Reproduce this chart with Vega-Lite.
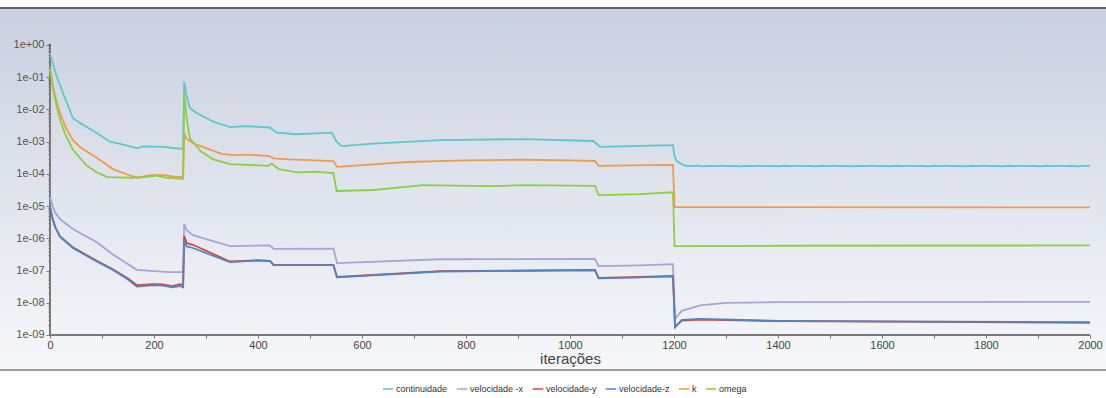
{
  "$schema": "https://vega.github.io/schema/vega-lite/v6.json",
  "width": 1106,
  "height": 362,
  "autosize": {"type": "none"},
  "padding": {"left": 0, "right": 0, "top": 8, "bottom": 28},
  "background": "white",
  "config": {"view": {"stroke": null}, "axis": {"grid": false}},
  "data": {"values": [
    {"s":"continuidade","it":0,"v":5.62e-1},{"s":"continuidade","it":5,"v":2.82e-1},{"s":"continuidade","it":13,"v":1.05e-1},{"s":"continuidade","it":25,"v":3.24e-2},{"s":"continuidade","it":44,"v":5.37e-3},{"s":"continuidade","it":58,"v":3.80e-3},{"s":"continuidade","it":90,"v":1.86e-3},{"s":"continuidade","it":115,"v":1.0e-3},{"s":"continuidade","it":135,"v":8.51e-4},{"s":"continuidade","it":167,"v":6.31e-4},{"s":"continuidade","it":180,"v":7.08e-4},{"s":"continuidade","it":218,"v":6.92e-4},{"s":"continuidade","it":250,"v":6.03e-4},{"s":"continuidade","it":256,"v":6.31e-4},{"s":"continuidade","it":258,"v":7.24e-2},{"s":"continuidade","it":263,"v":2.51e-2},{"s":"continuidade","it":269,"v":1.10e-2},{"s":"continuidade","it":282,"v":7.76e-3},{"s":"continuidade","it":314,"v":4.17e-3},{"s":"continuidade","it":346,"v":2.82e-3},{"s":"continuidade","it":378,"v":3.02e-3},{"s":"continuidade","it":423,"v":2.75e-3},{"s":"continuidade","it":436,"v":1.91e-3},{"s":"continuidade","it":474,"v":1.70e-3},{"s":"continuidade","it":542,"v":1.91e-3},{"s":"continuidade","it":551,"v":1.0e-3},{"s":"continuidade","it":561,"v":7.24e-4},{"s":"continuidade","it":622,"v":8.71e-4},{"s":"continuidade","it":750,"v":1.12e-3},{"s":"continuidade","it":910,"v":1.20e-3},{"s":"continuidade","it":1045,"v":1.05e-3},{"s":"continuidade","it":1058,"v":6.92e-4},{"s":"continuidade","it":1135,"v":7.41e-4},{"s":"continuidade","it":1198,"v":7.76e-4},{"s":"continuidade","it":1201,"v":3.55e-4},{"s":"continuidade","it":1205,"v":2.51e-4},{"s":"continuidade","it":1220,"v":1.82e-4},
    {"s":"continuidade","it":1232,"v":1.74e-4},{"s":"continuidade","it":1244,"v":1.80e-4},{"s":"continuidade","it":1256,"v":1.72e-4},{"s":"continuidade","it":1268,"v":1.78e-4},{"s":"continuidade","it":1280,"v":1.74e-4},{"s":"continuidade","it":1292,"v":1.81e-4},{"s":"continuidade","it":1304,"v":1.73e-4},{"s":"continuidade","it":1316,"v":1.78e-4},{"s":"continuidade","it":1328,"v":1.72e-4},{"s":"continuidade","it":1340,"v":1.79e-4},{"s":"continuidade","it":1352,"v":1.75e-4},{"s":"continuidade","it":1364,"v":1.80e-4},{"s":"continuidade","it":1376,"v":1.73e-4},{"s":"continuidade","it":1388,"v":1.77e-4},{"s":"continuidade","it":1400,"v":1.72e-4},{"s":"continuidade","it":1412,"v":1.79e-4},{"s":"continuidade","it":1424,"v":1.74e-4},{"s":"continuidade","it":1436,"v":1.80e-4},{"s":"continuidade","it":1448,"v":1.73e-4},{"s":"continuidade","it":1460,"v":1.78e-4},{"s":"continuidade","it":1472,"v":1.72e-4},{"s":"continuidade","it":1484,"v":1.79e-4},{"s":"continuidade","it":1496,"v":1.75e-4},{"s":"continuidade","it":1508,"v":1.80e-4},{"s":"continuidade","it":1520,"v":1.73e-4},{"s":"continuidade","it":1532,"v":1.77e-4},{"s":"continuidade","it":1544,"v":1.72e-4},{"s":"continuidade","it":1556,"v":1.79e-4},{"s":"continuidade","it":1568,"v":1.74e-4},{"s":"continuidade","it":1580,"v":1.81e-4},{"s":"continuidade","it":1592,"v":1.73e-4},{"s":"continuidade","it":1604,"v":1.78e-4},{"s":"continuidade","it":1616,"v":1.72e-4},{"s":"continuidade","it":1628,"v":1.79e-4},{"s":"continuidade","it":1640,"v":1.75e-4},{"s":"continuidade","it":1652,"v":1.80e-4},{"s":"continuidade","it":1664,"v":1.73e-4},{"s":"continuidade","it":1676,"v":1.77e-4},{"s":"continuidade","it":1688,"v":1.72e-4},{"s":"continuidade","it":1700,"v":1.79e-4},{"s":"continuidade","it":1712,"v":1.74e-4},{"s":"continuidade","it":1724,"v":1.80e-4},{"s":"continuidade","it":1736,"v":1.73e-4},{"s":"continuidade","it":1748,"v":1.78e-4},{"s":"continuidade","it":1760,"v":1.72e-4},{"s":"continuidade","it":1772,"v":1.79e-4},{"s":"continuidade","it":1784,"v":1.75e-4},{"s":"continuidade","it":1796,"v":1.81e-4},{"s":"continuidade","it":1808,"v":1.73e-4},{"s":"continuidade","it":1820,"v":1.77e-4},{"s":"continuidade","it":1832,"v":1.72e-4},{"s":"continuidade","it":1844,"v":1.79e-4},{"s":"continuidade","it":1856,"v":1.74e-4},{"s":"continuidade","it":1868,"v":1.80e-4},{"s":"continuidade","it":1880,"v":1.73e-4},{"s":"continuidade","it":1892,"v":1.78e-4},{"s":"continuidade","it":1904,"v":1.72e-4},{"s":"continuidade","it":1916,"v":1.79e-4},{"s":"continuidade","it":1928,"v":1.75e-4},{"s":"continuidade","it":1940,"v":1.80e-4},{"s":"continuidade","it":1952,"v":1.73e-4},{"s":"continuidade","it":1964,"v":1.77e-4},{"s":"continuidade","it":1976,"v":1.72e-4},{"s":"continuidade","it":1988,"v":1.79e-4},{"s":"continuidade","it":2000,"v":1.76e-4},
    {"s":"velocidade -x","it":0,"v":2.0e-5},{"s":"velocidade -x","it":5,"v":1.0e-5},{"s":"velocidade -x","it":10,"v":6.31e-6},{"s":"velocidade -x","it":19,"v":3.98e-6},{"s":"velocidade -x","it":44,"v":1.95e-6},{"s":"velocidade -x","it":90,"v":7.59e-7},{"s":"velocidade -x","it":121,"v":3.16e-7},{"s":"velocidade -x","it":167,"v":1.05e-7},{"s":"velocidade -x","it":200,"v":9.55e-8},{"s":"velocidade -x","it":231,"v":8.91e-8},{"s":"velocidade -x","it":256,"v":8.91e-8},{"s":"velocidade -x","it":258,"v":2.75e-6},{"s":"velocidade -x","it":263,"v":1.78e-6},{"s":"velocidade -x","it":275,"v":1.26e-6},{"s":"velocidade -x","it":346,"v":5.75e-7},{"s":"velocidade -x","it":423,"v":6.03e-7},{"s":"velocidade -x","it":430,"v":4.68e-7},{"s":"velocidade -x","it":545,"v":4.79e-7},{"s":"velocidade -x","it":552,"v":1.70e-7},{"s":"velocidade -x","it":750,"v":2.24e-7},{"s":"velocidade -x","it":1048,"v":2.29e-7},{"s":"velocidade -x","it":1055,"v":1.38e-7},{"s":"velocidade -x","it":1135,"v":1.45e-7},{"s":"velocidade -x","it":1198,"v":1.58e-7},{"s":"velocidade -x","it":1202,"v":3.16e-9},{"s":"velocidade -x","it":1215,"v":5.62e-9},{"s":"velocidade -x","it":1250,"v":8.32e-9},{"s":"velocidade -x","it":1300,"v":1.0e-8},{"s":"velocidade -x","it":1400,"v":1.05e-8},{"s":"velocidade -x","it":2000,"v":1.07e-8},
    {"s":"velocidade-y","it":0,"v":8.91e-6},{"s":"velocidade-y","it":5,"v":3.98e-6},{"s":"velocidade-y","it":10,"v":2.24e-6},{"s":"velocidade-y","it":19,"v":1.17e-6},{"s":"velocidade-y","it":44,"v":5.25e-7},{"s":"velocidade-y","it":90,"v":2.0e-7},{"s":"velocidade-y","it":121,"v":1.10e-7},{"s":"velocidade-y","it":150,"v":5.62e-8},{"s":"velocidade-y","it":167,"v":3.55e-8},{"s":"velocidade-y","it":200,"v":3.80e-8},{"s":"velocidade-y","it":217,"v":3.72e-8},{"s":"velocidade-y","it":235,"v":3.31e-8},{"s":"velocidade-y","it":250,"v":3.80e-8},{"s":"velocidade-y","it":256,"v":3.55e-8},{"s":"velocidade-y","it":258,"v":1.17e-6},{"s":"velocidade-y","it":263,"v":7.08e-7},{"s":"velocidade-y","it":275,"v":6.31e-7},{"s":"velocidade-y","it":346,"v":1.91e-7},{"s":"velocidade-y","it":398,"v":2.09e-7},{"s":"velocidade-y","it":423,"v":2.0e-7},{"s":"velocidade-y","it":430,"v":1.51e-7},{"s":"velocidade-y","it":545,"v":1.51e-7},{"s":"velocidade-y","it":552,"v":6.31e-8},{"s":"velocidade-y","it":750,"v":9.55e-8},{"s":"velocidade-y","it":1048,"v":1.05e-7},{"s":"velocidade-y","it":1055,"v":5.89e-8},{"s":"velocidade-y","it":1135,"v":6.31e-8},{"s":"velocidade-y","it":1198,"v":6.76e-8},{"s":"velocidade-y","it":1202,"v":1.78e-9},{"s":"velocidade-y","it":1215,"v":2.82e-9},{"s":"velocidade-y","it":1250,"v":3.02e-9},{"s":"velocidade-y","it":1400,"v":2.69e-9},{"s":"velocidade-y","it":2000,"v":2.40e-9},
    {"s":"velocidade-z","it":0,"v":1.0e-5},{"s":"velocidade-z","it":5,"v":4.17e-6},{"s":"velocidade-z","it":10,"v":2.24e-6},{"s":"velocidade-z","it":19,"v":1.12e-6},{"s":"velocidade-z","it":44,"v":5.01e-7},{"s":"velocidade-z","it":90,"v":1.91e-7},{"s":"velocidade-z","it":121,"v":1.05e-7},{"s":"velocidade-z","it":150,"v":5.25e-8},{"s":"velocidade-z","it":167,"v":3.16e-8},{"s":"velocidade-z","it":200,"v":3.55e-8},{"s":"velocidade-z","it":217,"v":3.39e-8},{"s":"velocidade-z","it":235,"v":3.02e-8},{"s":"velocidade-z","it":250,"v":3.31e-8},{"s":"velocidade-z","it":256,"v":3.02e-8},{"s":"velocidade-z","it":258,"v":7.94e-7},{"s":"velocidade-z","it":263,"v":5.62e-7},{"s":"velocidade-z","it":275,"v":5.01e-7},{"s":"velocidade-z","it":346,"v":1.82e-7},{"s":"velocidade-z","it":398,"v":2.04e-7},{"s":"velocidade-z","it":423,"v":1.95e-7},{"s":"velocidade-z","it":430,"v":1.48e-7},{"s":"velocidade-z","it":545,"v":1.48e-7},{"s":"velocidade-z","it":552,"v":6.17e-8},{"s":"velocidade-z","it":750,"v":9.33e-8},{"s":"velocidade-z","it":1048,"v":1.02e-7},{"s":"velocidade-z","it":1055,"v":5.75e-8},{"s":"velocidade-z","it":1135,"v":6.17e-8},{"s":"velocidade-z","it":1198,"v":6.61e-8},{"s":"velocidade-z","it":1202,"v":1.70e-9},{"s":"velocidade-z","it":1215,"v":2.95e-9},{"s":"velocidade-z","it":1250,"v":3.16e-9},{"s":"velocidade-z","it":1400,"v":2.75e-9},{"s":"velocidade-z","it":2000,"v":2.51e-9},
    {"s":"k","it":0,"v":2.0e-1},{"s":"k","it":5,"v":6.31e-2},{"s":"k","it":10,"v":2.51e-2},{"s":"k","it":19,"v":7.94e-3},{"s":"k","it":30,"v":2.82e-3},{"s":"k","it":44,"v":1.12e-3},{"s":"k","it":60,"v":6.31e-4},{"s":"k","it":90,"v":3.16e-4},{"s":"k","it":121,"v":1.41e-4},{"s":"k","it":154,"v":8.91e-5},{"s":"k","it":170,"v":7.59e-5},{"s":"k","it":190,"v":8.91e-5},{"s":"k","it":217,"v":9.33e-5},{"s":"k","it":235,"v":8.32e-5},{"s":"k","it":256,"v":7.94e-5},{"s":"k","it":258,"v":1.82e-3},{"s":"k","it":262,"v":1.26e-3},{"s":"k","it":275,"v":8.91e-4},{"s":"k","it":300,"v":6.31e-4},{"s":"k","it":330,"v":4.17e-4},{"s":"k","it":354,"v":3.80e-4},{"s":"k","it":380,"v":3.98e-4},{"s":"k","it":423,"v":3.55e-4},{"s":"k","it":430,"v":3.02e-4},{"s":"k","it":460,"v":2.82e-4},{"s":"k","it":500,"v":2.69e-4},{"s":"k","it":545,"v":2.51e-4},{"s":"k","it":552,"v":1.66e-4},{"s":"k","it":600,"v":1.86e-4},{"s":"k","it":686,"v":2.34e-4},{"s":"k","it":800,"v":2.63e-4},{"s":"k","it":910,"v":2.75e-4},{"s":"k","it":1000,"v":2.63e-4},{"s":"k","it":1048,"v":2.51e-4},{"s":"k","it":1055,"v":1.78e-4},{"s":"k","it":1150,"v":1.86e-4},{"s":"k","it":1198,"v":1.91e-4},{"s":"k","it":1201,"v":9.33e-6},{"s":"k","it":2000,"v":9.12e-6},
    {"s":"omega","it":0,"v":2.0e-1},{"s":"omega","it":5,"v":5.01e-2},{"s":"omega","it":10,"v":2.0e-2},{"s":"omega","it":19,"v":5.01e-3},{"s":"omega","it":30,"v":1.58e-3},{"s":"omega","it":44,"v":5.62e-4},{"s":"omega","it":71,"v":1.78e-4},{"s":"omega","it":90,"v":1.12e-4},{"s":"omega","it":110,"v":7.94e-5},{"s":"omega","it":154,"v":7.59e-5},{"s":"omega","it":180,"v":7.94e-5},{"s":"omega","it":205,"v":8.91e-5},{"s":"omega","it":225,"v":7.59e-5},{"s":"omega","it":256,"v":7.08e-5},{"s":"omega","it":258,"v":3.39e-2},{"s":"omega","it":263,"v":5.01e-3},{"s":"omega","it":269,"v":1.26e-3},{"s":"omega","it":290,"v":5.01e-4},{"s":"omega","it":314,"v":2.82e-4},{"s":"omega","it":346,"v":2.0e-4},{"s":"omega","it":380,"v":1.91e-4},{"s":"omega","it":420,"v":1.78e-4},{"s":"omega","it":426,"v":2.09e-4},{"s":"omega","it":440,"v":1.41e-4},{"s":"omega","it":475,"v":1.12e-4},{"s":"omega","it":510,"v":1.17e-4},{"s":"omega","it":545,"v":1.05e-4},{"s":"omega","it":551,"v":2.95e-5},{"s":"omega","it":622,"v":3.16e-5},{"s":"omega","it":718,"v":4.47e-5},{"s":"omega","it":846,"v":4.17e-5},{"s":"omega","it":910,"v":4.47e-5},{"s":"omega","it":1048,"v":4.27e-5},{"s":"omega","it":1055,"v":2.19e-5},{"s":"omega","it":1135,"v":2.34e-5},{"s":"omega","it":1198,"v":2.69e-5},{"s":"omega","it":1201,"v":5.75e-7},{"s":"omega","it":1400,"v":5.89e-7},{"s":"omega","it":2000,"v":6.03e-7}
  ]},
  "layer": [
    {
      "mark": {"type": "rect", "fill": {"gradient": "linear", "x1": 0, "y1": 0, "x2": 0, "y2": 1, "stops": [{"offset": 0, "color": "#c9d0e0"}, {"offset": 1, "color": "#f7f8fb"}]}},
      "encoding": {
        "x": {"datum": -96.154, "type": "quantitative", "scale": {"domain": [-96.154, 2030.77], "nice": false, "zero": false}},
        "x2": {"datum": 2030.77},
        "y": {"datum": 8.2e-11, "type": "quantitative", "scale": {"type": "log", "domain": [8.2e-11, 14.06], "nice": false}},
        "y2": {"datum": 14.06}
      }
    },
    {
      "mark": {"type": "rule", "color": "#5b6272", "strokeWidth": 2},
      "encoding": {"x": {"datum": -96.154, "type": "quantitative"}, "x2": {"datum": 2030.77}, "y": {"datum": 14.06, "type": "quantitative"}}
    },
    {
      "mark": {"type": "rule", "color": "#9a9a9a", "strokeWidth": 1},
      "encoding": {"x": {"datum": -96.154, "type": "quantitative"}, "x2": {"datum": 2030.77}, "y": {"datum": 8.2e-11, "type": "quantitative"}}
    },
    {
      "mark": {"type": "rule", "color": "#7a7a7a", "strokeWidth": 1},
      "encoding": {"x": {"datum": 0, "type": "quantitative"}, "x2": {"datum": 2000}, "y": {"datum": 1e-9, "type": "quantitative"}}
    },
    {
      "mark": {"type": "rule", "color": "#7a7a7a", "strokeWidth": 1},
      "encoding": {"x": {"datum": 0, "type": "quantitative"}, "y": {"datum": 1e-9, "type": "quantitative"}, "y2": {"datum": 1}}
    },
    {
      "mark": {"type": "line", "strokeWidth": 1.8, "clip": true},
      "encoding": {
        "x": {"field": "it", "type": "quantitative",
          "scale": {"domain": [-96.154, 2030.77], "nice": false, "zero": false},
          "axis": {"orient": "bottom", "offset": -35, "domain": false, "grid": false, "zindex": 1,
            "values": [0,100,200,300,400,500,600,700,800,900,1000,1100,1200,1300,1400,1500,1600,1700,1800,1900,2000],
            "labelExpr": "datum.value % 200 == 0 ? datum.label : ''", "format": "d",
            "tickSize": 3, "tickColor": "#777", "labelColor": "#444", "labelFont": "Liberation Sans", "labelFontSize": 11, "labelPadding": 1,
            "title": "iterações", "titleFont": "Liberation Sans", "titleFontSize": 15, "titleFontWeight": "normal", "titleColor": "#444",
            "titleX": 570, "titleY": 23, "titleAlign": "center", "titleBaseline": "middle", "titleAnchor": null}},
        "y": {"field": "v", "type": "quantitative",
          "scale": {"type": "log", "domain": [8.2e-11, 14.06], "nice": false},
          "axis": {"orient": "left", "offset": -50, "domain": false, "grid": false, "title": null, "zindex": 1,
            "values": [1e-9,2e-9,3e-9,4e-9,5e-9,6e-9,7e-9,8e-9,9e-9,1e-8,2e-8,3e-8,4e-8,5e-8,6e-8,7e-8,8e-8,9e-8,1e-7,2e-7,3e-7,4e-7,5e-7,6e-7,7e-7,8e-7,9e-7,1e-6,2e-6,3e-6,4e-6,5e-6,6e-6,7e-6,8e-6,9e-6,1e-5,2e-5,3e-5,4e-5,5e-5,6e-5,7e-5,8e-5,9e-5,1e-4,2e-4,3e-4,4e-4,5e-4,6e-4,7e-4,8e-4,9e-4,1e-3,2e-3,3e-3,4e-3,5e-3,6e-3,7e-3,8e-3,9e-3,1e-2,2e-2,3e-2,4e-2,5e-2,6e-2,7e-2,8e-2,9e-2,1e-1,2e-1,3e-1,4e-1,5e-1,6e-1,7e-1,8e-1,9e-1,1],
            "labelExpr": "abs(log(datum.value)/LN10 - round(log(datum.value)/LN10)) < 0.01 ? '1e' + (round(log(datum.value)/LN10) < 0 ? '-' : '+') + format(abs(round(log(datum.value)/LN10)), '02d') : ''",
            "tickSize": {"condition": {"test": "abs(log(datum.value)/LN10 - round(log(datum.value)/LN10)) < 0.01", "value": 4}, "value": 2},
            "tickColor": "#777", "labelColor": "#555", "labelFont": "Liberation Sans", "labelFontSize": 11, "labelPadding": 2, "labelOverlap": false}},
        "color": {"field": "s", "type": "nominal",
          "scale": {"domain": ["continuidade", "velocidade -x", "velocidade-y", "velocidade-z", "k", "omega"],
                    "range": ["#5ec9c9", "#aaa3d5", "#d9463c", "#4d86c4", "#f39a4a", "#8ecf3e"]},
          "legend": {"orient": "none", "direction": "horizontal", "legendX": 382, "legendY": 375, "title": null,
            "symbolType": "stroke", "symbolSize": 110, "symbolStrokeWidth": 1.5,
            "labelFont": "Liberation Sans", "labelFontSize": 9, "labelColor": "#333", "labelOffset": 2, "columnPadding": 5, "padding": 0}}
      }
    }
  ]
}
